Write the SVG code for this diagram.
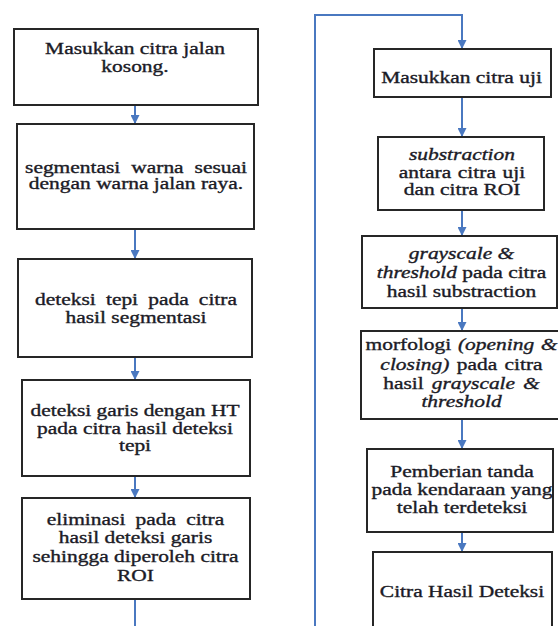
<svg xmlns="http://www.w3.org/2000/svg" width="558" height="626" viewBox="0 0 558 626">
  <style>
    .box { fill: #ffffff; stroke: #262626; stroke-width: 2; }
    .txt { font-family: "Liberation Serif", "Times New Roman", serif; font-size: 16.5px; fill: #1b1b26; stroke: #1b1b26; stroke-width: 0.35; text-anchor: middle; }
    .it { font-style: italic; }
    .conn { fill: none; stroke: #4a78c0; stroke-width: 2; }
  </style>
  <defs>
    <marker id="arr" markerUnits="userSpaceOnUse" markerWidth="10" markerHeight="9" refX="9" refY="4.5" orient="auto">
      <path d="M0,0 L9,4.5 L0,9 z" fill="#4a78c0"/>
    </marker>
  </defs>
  <rect width="558" height="626" fill="#ffffff"/>

  <g id="connectors">
    <line class="conn" x1="135" y1="105" x2="135" y2="124" marker-end="url(#arr)"/>
    <line class="conn" x1="135" y1="229" x2="135" y2="259" marker-end="url(#arr)"/>
    <line class="conn" x1="135" y1="357" x2="135" y2="380" marker-end="url(#arr)"/>
    <line class="conn" x1="135" y1="476" x2="135" y2="498" marker-end="url(#arr)"/>
    <line class="conn" x1="135" y1="599" x2="135" y2="626"/>
    <polyline class="conn" points="315,626 315,15 462,15 462,49" marker-end="url(#arr)"/>
    <line class="conn" x1="462" y1="97" x2="462" y2="137" marker-end="url(#arr)"/>
    <line class="conn" x1="462" y1="210" x2="462" y2="236" marker-end="url(#arr)"/>
    <line class="conn" x1="462" y1="308" x2="462" y2="331" marker-end="url(#arr)"/>
    <line class="conn" x1="462" y1="419" x2="462" y2="449" marker-end="url(#arr)"/>
    <line class="conn" x1="462" y1="532" x2="462" y2="552" marker-end="url(#arr)"/>
  </g>

  <g id="n1">
    <rect class="box" x="14" y="29" width="244" height="76"/>
    <text class="txt" transform="translate(135,0) scale(1.3,1)"><tspan x="0" y="54">Masukkan citra jalan</tspan><tspan x="0" y="72">kosong.</tspan></text>
  </g>
  <g id="n2">
    <rect class="box" x="17" y="124" width="237" height="105"/>
    <text class="txt" transform="translate(136,0) scale(1.3,1)"><tspan x="0" y="173" word-spacing="4.3">segmentasi warna sesuai</tspan><tspan x="0" y="189.5">dengan warna jalan raya.</tspan></text>
  </g>
  <g id="n3">
    <rect class="box" x="18" y="259" width="234" height="98"/>
    <text class="txt" transform="translate(136,0) scale(1.3,1)"><tspan x="0" y="305" word-spacing="3.7">deteksi tepi pada citra</tspan><tspan x="0" y="323">hasil segmentasi</tspan></text>
  </g>
  <g id="n4">
    <rect class="box" x="22" y="380" width="228" height="96"/>
    <text class="txt" transform="translate(135,0) scale(1.3,1)"><tspan x="0" y="416.5">deteksi garis dengan HT</tspan><tspan x="0" y="434">pada citra hasil deteksi</tspan><tspan x="0" y="451">tepi</tspan></text>
  </g>
  <g id="n5">
    <rect class="box" x="22" y="498" width="228" height="101"/>
    <text class="txt" transform="translate(135.5,0) scale(1.3,1)"><tspan x="0" y="525.5" word-spacing="3.7">eliminasi pada citra</tspan><tspan x="0" y="543.5">hasil deteksi garis</tspan><tspan x="0" y="562">sehingga diperoleh citra</tspan><tspan x="0" y="581">ROI</tspan></text>
  </g>

  <g id="r1">
    <rect class="box" x="374" y="49" width="177" height="48"/>
    <text class="txt" transform="translate(461.5,0) scale(1.3,1)"><tspan x="0" y="83">Masukkan citra uji</tspan></text>
  </g>
  <g id="r2">
    <rect class="box" x="378" y="137" width="166" height="73"/>
    <text class="txt" transform="translate(462,0) scale(1.3,1)"><tspan x="0" y="160.5" class="it">substraction</tspan><tspan x="0" y="178" word-spacing="1">antara citra uji</tspan><tspan x="0" y="195.5">dan citra ROI</tspan></text>
  </g>
  <g id="r3">
    <rect class="box" x="362" y="236" width="195" height="72"/>
    <text class="txt" transform="translate(461.5,0) scale(1.3,1)"><tspan x="0" y="259" class="it">grayscale &amp;</tspan><tspan x="0" y="278"><tspan class="it">threshold</tspan> pada citra</tspan><tspan x="0" y="297">hasil substraction</tspan></text>
  </g>
  <g id="r4">
    <rect class="box" x="361" y="331" width="205" height="88"/>
    <text class="txt" transform="translate(461.5,0) scale(1.3,1)"><tspan x="0" y="350" word-spacing="1">morfologi <tspan class="it">(opening &amp;</tspan></tspan><tspan x="0" y="370" word-spacing="1.5"><tspan class="it">closing)</tspan> pada citra</tspan><tspan x="0" y="389" word-spacing="2">hasil <tspan class="it">grayscale &amp;</tspan></tspan><tspan x="0" y="407" class="it">threshold</tspan></text>
  </g>
  <g id="r5">
    <rect class="box" x="367" y="449" width="186" height="83"/>
    <text class="txt" transform="translate(462,0) scale(1.3,1)"><tspan x="0" y="477">Pemberian tanda</tspan><tspan x="0" y="495">pada kendaraan yang</tspan><tspan x="0" y="513.5">telah terdeteksi</tspan></text>
  </g>
  <g id="r6">
    <rect class="box" x="373" y="552" width="179" height="90"/>
    <text class="txt" transform="translate(462,0) scale(1.3,1)"><tspan x="0" y="597">Citra Hasil Deteksi</tspan></text>
  </g>
</svg>
